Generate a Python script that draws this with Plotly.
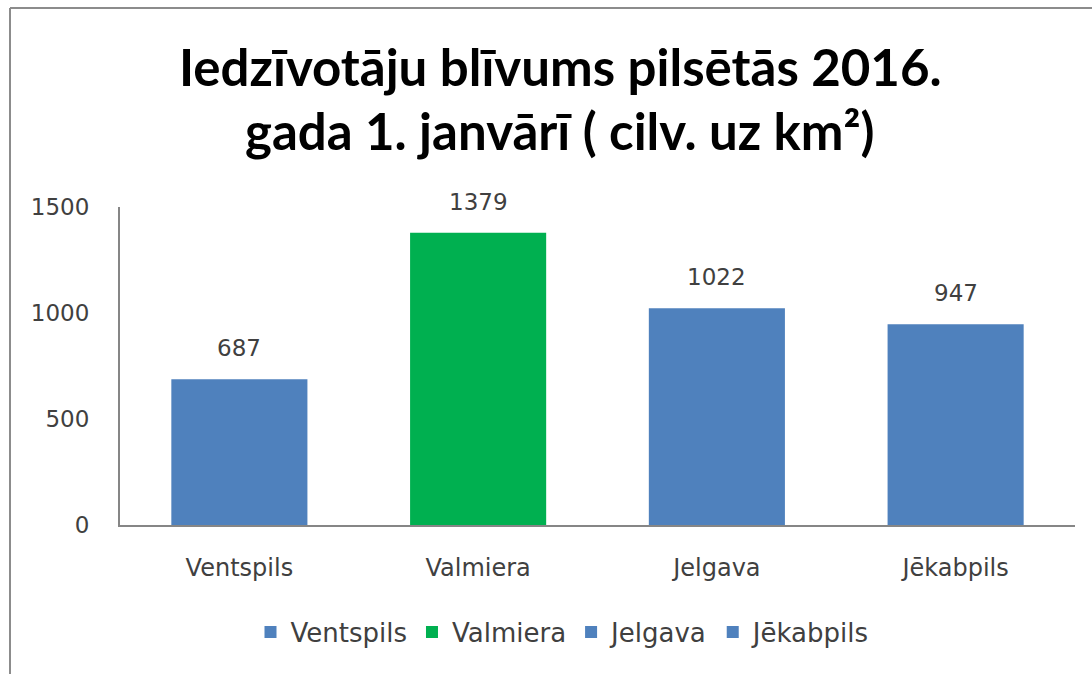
import plotly.graph_objects as go

categories = ["Ventspils", "Valmiera", "Jelgava", "Jēkabpils"]
values = [687, 1379, 1022, 947]
colors = ["#4F81BD", "#00B050", "#4F81BD", "#4F81BD"]
title_line1 = "Iedzīvotāju blīvums pilsētās 2016."
title_line2 = "gada 1. janvārī ( cilv. uz km²)"

W, H = 1092, 674
L, R, T, B = 120, 17, 207, 149
pw, ph = W - L - R, H - T - B

def px(x):
    return (x - L) / pw

def py(y):
    return (H - B - y) / ph

LABEL_FONT = "DejaVu Sans"

fig = go.Figure()
for c, v, col in zip(categories, values, colors):
    fig.add_trace(go.Bar(
        x=[c], y=[v], name=c, marker=dict(color=col, line=dict(width=0)),
        width=0.57,
    ))

annotations = []
for c, v in zip(categories, values):
    annotations.append(dict(
        x=c, y=v, xref="x", yref="y", text=str(v), showarrow=False,
        yanchor="bottom", yshift=16,
        font=dict(family=LABEL_FONT, size=23, color="#404040"),
    ))

annotations += [
    dict(text="<b>" + title_line1 + "</b>", x=px(560), y=py(66), xref="paper", yref="paper",
         showarrow=False, font=dict(family="Lato", size=51, color="black"),
         xanchor="center", yanchor="middle"),
    dict(text="<b>" + title_line2 + "</b>", x=px(560), y=py(130), xref="paper", yref="paper",
         showarrow=False, font=dict(family="Lato", size=51, color="black"),
         xanchor="center", yanchor="middle"),
]

fig.update_layout(
    width=W, height=H,
    margin=dict(l=L, r=R, t=T, b=B),
    paper_bgcolor="white", plot_bgcolor="white",
    barmode="overlay",
    font=dict(family=LABEL_FONT, color="#404040"),
    xaxis=dict(showline=True, linecolor="#868686", linewidth=2, showgrid=False,
               tickfont=dict(family=LABEL_FONT, size=24, color="#404040"), ticks="",
               ticklabelstandoff=20,
               categoryorder="array", categoryarray=categories),
    yaxis=dict(range=[0, 1500], tickvals=[0, 500, 1000, 1500], showline=True,
               linecolor="#868686", linewidth=2, showgrid=False, zeroline=False,
               tickfont=dict(family=LABEL_FONT, size=23, color="#404040"), ticks="",
               ticklabelstandoff=24),
    showlegend=True,
    legend=dict(orientation="h", x=px(563), xanchor="center", y=py(632), yanchor="middle",
                font=dict(family=LABEL_FONT, size=26, color="#404040"), itemwidth=30,
                traceorder="normal"),
    annotations=annotations,
    shapes=[
        dict(type="line", xref="paper", yref="paper", x0=px(10), x1=px(1100), y0=py(8), y1=py(8),
             line=dict(color="#8c8c8c", width=2)),
        dict(type="line", xref="paper", yref="paper", x0=px(10), x1=px(10), y0=py(8), y1=py(680),
             line=dict(color="#8c8c8c", width=2)),
    ],
)

fig.write_html("out.html")
